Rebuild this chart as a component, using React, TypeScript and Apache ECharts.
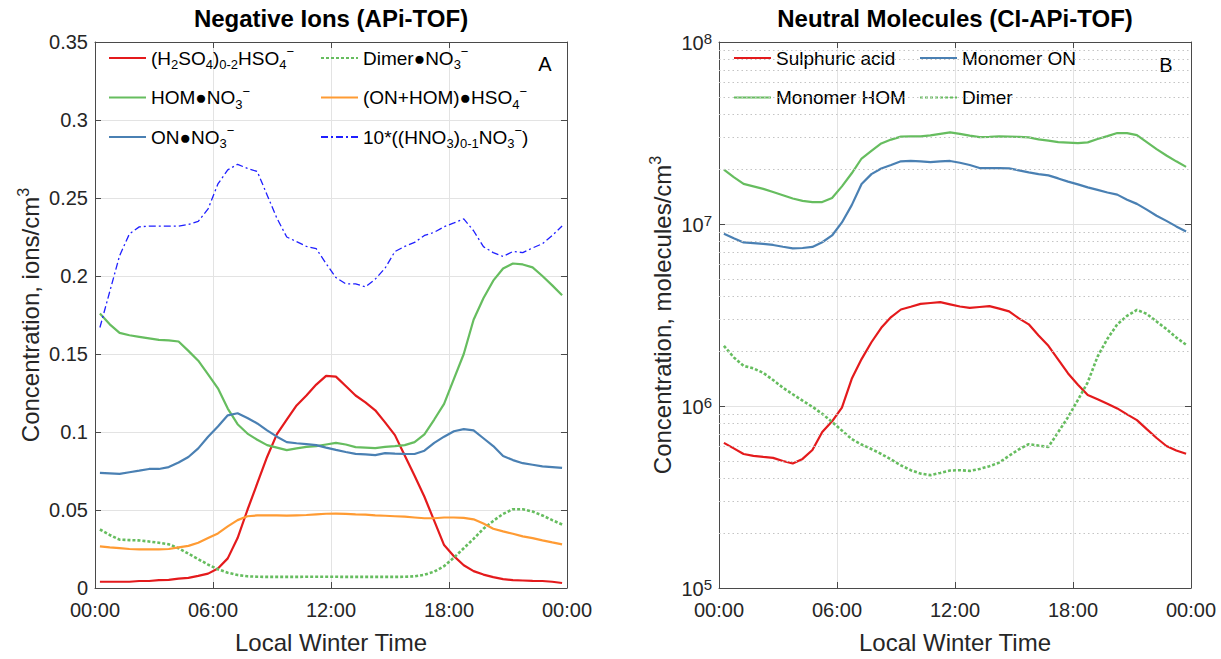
import React, { useEffect, useRef } from "react";
import * as echarts from "echarts";

const TIMES = [0.25, 0.75, 1.25, 1.75, 2.25, 2.75, 3.25, 3.75, 4.25, 4.75, 5.25, 5.75, 6.25, 6.75, 7.25, 7.75, 8.25, 8.75, 9.25, 9.75, 10.25, 10.75, 11.25, 11.75, 12.25, 12.75, 13.25, 13.75, 14.25, 14.75, 15.25, 15.75, 16.25, 16.75, 17.25, 17.75, 18.25, 18.75, 19.25, 19.75, 20.25, 20.75, 21.25, 21.75, 22.25, 22.75, 23.25, 23.75];

// Panel A: negative ions (ions/cm3)
const H2SO4_HSO4 = [0.004, 0.004, 0.004, 0.004, 0.0045, 0.0045, 0.005, 0.0052, 0.006, 0.0065, 0.0078, 0.0092, 0.0125, 0.019, 0.032, 0.05, 0.067, 0.084, 0.0986, 0.108, 0.117, 0.1234, 0.1304, 0.136, 0.1355, 0.1295, 0.1234, 0.119, 0.1139, 0.1062, 0.098, 0.085, 0.072, 0.0585, 0.043, 0.0275, 0.0204, 0.0146, 0.0108, 0.0086, 0.007, 0.0057, 0.005, 0.0048, 0.0046, 0.0045, 0.004, 0.0032];
const HOM_NO3 = [0.176, 0.169, 0.1635, 0.162, 0.161, 0.16, 0.159, 0.1587, 0.158, 0.152, 0.1457, 0.137, 0.128, 0.115, 0.105, 0.099, 0.095, 0.0916, 0.09, 0.0884, 0.0895, 0.0905, 0.091, 0.092, 0.093, 0.092, 0.0903, 0.09, 0.0897, 0.0905, 0.091, 0.0916, 0.0935, 0.0985, 0.108, 0.118, 0.134, 0.15, 0.172, 0.1857, 0.197, 0.2048, 0.208, 0.2074, 0.2055, 0.2, 0.194, 0.1877];
const ON_NO3 = [0.0738, 0.0735, 0.0732, 0.0742, 0.0752, 0.0763, 0.0763, 0.0775, 0.0805, 0.084, 0.0895, 0.097, 0.1035, 0.1107, 0.112, 0.109, 0.1055, 0.101, 0.097, 0.0935, 0.0928, 0.0922, 0.0916, 0.09, 0.0885, 0.0872, 0.086, 0.0856, 0.0852, 0.0865, 0.0862, 0.086, 0.0859, 0.088, 0.093, 0.097, 0.1005, 0.1018, 0.101, 0.096, 0.091, 0.0846, 0.082, 0.08, 0.079, 0.078, 0.0775, 0.077];
const DIMER_NO3 = [0.0375, 0.034, 0.031, 0.0307, 0.0305, 0.0298, 0.029, 0.028, 0.0255, 0.022, 0.0185, 0.015, 0.012, 0.0098, 0.0083, 0.0075, 0.0072, 0.0071, 0.0071, 0.0071, 0.0071, 0.0072, 0.0072, 0.0072, 0.0072, 0.0071, 0.0071, 0.0071, 0.0071, 0.0071, 0.0071, 0.0072, 0.0075, 0.0085, 0.0105, 0.014, 0.0195, 0.0255, 0.0315, 0.038, 0.043, 0.0475, 0.0505, 0.0505, 0.049, 0.0465, 0.0435, 0.0407];
const ONHOM_HSO4 = [0.0267, 0.026, 0.0255, 0.025, 0.0248, 0.0248, 0.0248, 0.025, 0.026, 0.027, 0.029, 0.032, 0.035, 0.0395, 0.0435, 0.046, 0.0465, 0.0466, 0.0465, 0.0464, 0.0466, 0.0468, 0.0472, 0.0476, 0.0477, 0.0475, 0.0472, 0.047, 0.0465, 0.0463, 0.046, 0.0457, 0.0452, 0.0447, 0.0447, 0.0452, 0.0452, 0.045, 0.044, 0.0413, 0.038, 0.0363, 0.0348, 0.0331, 0.032, 0.0305, 0.0292, 0.028];
const HNO3_X10 = [0.167, 0.19, 0.213, 0.227, 0.2315, 0.232, 0.232, 0.232, 0.232, 0.233, 0.235, 0.243, 0.259, 0.268, 0.2716, 0.269, 0.267, 0.252, 0.237, 0.225, 0.222, 0.219, 0.2175, 0.208, 0.199, 0.195, 0.195, 0.193, 0.198, 0.205, 0.2157, 0.219, 0.2215, 0.226, 0.228, 0.2316, 0.234, 0.2366, 0.229, 0.2188, 0.215, 0.2125, 0.2157, 0.215, 0.218, 0.2207, 0.226, 0.232];

// Panel B: neutral molecules (molecules/cm3)
const SULPHURIC = [6.27e5, 5.85e5, 5.45e5, 5.32e5, 5.25e5, 5.19e5, 4.99e5, 4.83e5, 5.12e5, 5.73e5, 7.19e5, 8.24e5, 9.8e5, 1.41e6, 1.81e6, 2.24e6, 2.69e6, 3.08e6, 3.39e6, 3.51e6, 3.64e6, 3.68e6, 3.72e6, 3.62e6, 3.52e6, 3.46e6, 3.5e6, 3.54e6, 3.43e6, 3.31e6, 3.03e6, 2.81e6, 2.44e6, 2.14e6, 1.8e6, 1.51e6, 1.31e6, 1.15e6, 1.09e6, 1.03e6, 9.7e5, 9.0e5, 8.36e5, 7.46e5, 6.67e5, 6.03e5, 5.7e5, 5.46e5];
const MONOMER_ON = [8.83e6, 8.34e6, 7.92e6, 7.85e6, 7.78e6, 7.67e6, 7.5e6, 7.35e6, 7.38e6, 7.48e6, 7.94e6, 8.65e6, 1.02e7, 1.27e7, 1.66e7, 1.88e7, 2.02e7, 2.11e7, 2.21e7, 2.22e7, 2.21e7, 2.19e7, 2.21e7, 2.22e7, 2.17e7, 2.11e7, 2.03e7, 2.03e7, 2.03e7, 2.02e7, 1.97e7, 1.92e7, 1.88e7, 1.85e7, 1.78e7, 1.71e7, 1.65e7, 1.59e7, 1.54e7, 1.49e7, 1.45e7, 1.36e7, 1.29e7, 1.2e7, 1.11e7, 1.04e7, 9.7e6, 9.1e6];
const MONOMER_HOM = [1.99e7, 1.81e7, 1.66e7, 1.61e7, 1.56e7, 1.5e7, 1.44e7, 1.38e7, 1.34e7, 1.32e7, 1.32e7, 1.39e7, 1.61e7, 1.9e7, 2.29e7, 2.52e7, 2.77e7, 2.91e7, 3.02e7, 3.03e7, 3.03e7, 3.07e7, 3.13e7, 3.19e7, 3.13e7, 3.06e7, 3.0e7, 3.01e7, 3.03e7, 3.02e7, 3.01e7, 2.99e7, 2.92e7, 2.87e7, 2.82e7, 2.8e7, 2.78e7, 2.81e7, 2.93e7, 3.04e7, 3.16e7, 3.16e7, 3.08e7, 2.82e7, 2.58e7, 2.38e7, 2.21e7, 2.06e7];
const DIMER = [2.14e6, 1.85e6, 1.66e6, 1.61e6, 1.52e6, 1.39e6, 1.26e6, 1.16e6, 1.07e6, 9.9e5, 9.06e5, 8.17e5, 7.33e5, 6.58e5, 6.14e5, 5.8e5, 5.45e5, 5.08e5, 4.72e5, 4.44e5, 4.25e5, 4.17e5, 4.29e5, 4.42e5, 4.44e5, 4.4e5, 4.51e5, 4.67e5, 4.89e5, 5.33e5, 5.78e5, 6.17e5, 6.06e5, 5.96e5, 7.19e5, 8.69e5, 1.08e6, 1.35e6, 1.87e6, 2.34e6, 2.81e6, 3.13e6, 3.37e6, 3.21e6, 2.91e6, 2.65e6, 2.38e6, 2.17e6];

const X_TICKS_HOURS = [0, 6, 12, 18, 24];
const LOG_MINOR = [2e5, 3e5, 4e5, 5e5, 6e5, 7e5, 8e5, 9e5, 2e6, 3e6, 4e6, 5e6, 6e6, 7e6, 8e6, 9e6, 2e7, 3e7, 4e7, 5e7, 6e7, 7e7, 8e7, 9e7];

const FONT = '"Liberation Sans", Arial, Helvetica, sans-serif';
const TXT = "#262626";
const AXIS = "#4a4a4a";
const GRID = "#e3e3e3";

const RED = "#e41a1c";
const GREEN = "#66bd5f";
const STEEL = "#4a80b3";
const ORANGE = "#ff9b33";
const BLUE = "#1f1fff";

const LEGEND_TEXT: Record<string, string> = {
  "(H2SO4)0-2HSO4-": "(H{s|2}SO{s|4}){s|0-2}HSO{s|4}{p|−}",
  "HOM●NO3-": "HOM●NO{s|3}{p|−}",
  "ON●NO3-": "ON●NO{s|3}{p|−}",
  "Dimer●NO3-": "Dimer●NO{s|3}{p|−}",
  "(ON+HOM)●HSO4-": "(ON+HOM)●HSO{s|4}{p|−}",
  "10*((HNO3)0-1NO3-)": "10*((HNO{s|3}){s|0-1}NO{s|3}{p|−})",
};

const legendTextStyle = {
  fontFamily: FONT,
  fontSize: 19,
  color: "#000",
  lineHeight: 26,
  rich: {
    s: { fontFamily: FONT, fontSize: 13, color: "#000", verticalAlign: "bottom", lineHeight: 26 },
    p: { fontFamily: FONT, fontSize: 13, color: "#000", verticalAlign: "top", lineHeight: 26 },
  },
};

function makeLegend(left: number, names: string[]) {
  return {
    left,
    top: 45,
    orient: "vertical",
    padding: 0,
    itemWidth: 37,
    itemHeight: 14,
    itemGap: 13.5,
    selectedMode: false,
    itemStyle: { opacity: 0 },
    data: names,
    formatter: (n: string) => LEGEND_TEXT[n] || n,
    textStyle: legendTextStyle,
  };
}

const pairs = (arr: number[]) => TIMES.map((t, i) => [t, arr[i]]);

function lineSeries(name: string, arr: number[], color: string, idx: number, width: number, type: any) {
  return {
    name,
    type: "line",
    xAxisIndex: idx,
    yAxisIndex: idx,
    data: pairs(arr),
    symbol: "none",
    silent: true,
    itemStyle: { color, opacity: 0 },
    lineStyle: { color, width, type, opacity: 1 },
  };
}

const hourLabel = (v: number) => {
  const h = Math.round(v) % 24;
  return (h < 10 ? "0" + h : String(h)) + ":00";
};

function xAxes(grid: number) {
  const common = {
    gridIndex: grid,
    type: "value",
    min: X_TICKS_HOURS[0],
    max: X_TICKS_HOURS[X_TICKS_HOURS.length - 1],
    interval: 6,
    axisLine: { show: true, onZero: false, lineStyle: { color: AXIS, width: 1 } },
    axisTick: { show: true, inside: true, length: 6, lineStyle: { color: AXIS } },
  };
  return [
    {
      ...common,
      position: "bottom",
      axisLabel: { formatter: hourLabel, fontFamily: FONT, fontSize: 20, color: TXT, margin: 12 },
      splitLine: { show: true, lineStyle: { color: GRID, width: 1 } },
      name: "Local Winter Time",
      nameLocation: "middle",
      nameGap: 42,
      nameTextStyle: { fontFamily: FONT, fontSize: 24, color: TXT },
    },
    {
      ...common,
      position: "top",
      axisLabel: { show: false },
      splitLine: { show: false },
    },
  ];
}

export default function App() {
  const ref = useRef<HTMLDivElement>(null);
  useEffect(() => {
    document.body.style.margin = "0";
    const chart = echarts.init(ref.current!, null, { renderer: "svg" });
    const yLinCommon = {
      gridIndex: 0,
      type: "value",
      min: 0,
      max: 0.35,
      interval: 0.05,
      axisLine: { show: true, onZero: false, lineStyle: { color: AXIS, width: 1 } },
      axisTick: { show: true, inside: true, length: 6, lineStyle: { color: AXIS } },
    };
    const yLogCommon = {
      gridIndex: 1,
      type: "log",
      logBase: 10,
      min: 1e5,
      max: 1e8,
      axisLine: { show: true, onZero: false, lineStyle: { color: AXIS, width: 1 } },
      axisTick: { show: true, inside: true, length: 6, lineStyle: { color: AXIS } },
    };
    const option: any = {
      animation: false,
      backgroundColor: "#ffffff",
      textStyle: { fontFamily: FONT },
      grid: [
        { left: 95, right: 654, top: 42, bottom: 67 },
        { left: 719, right: 30, top: 42, bottom: 67 },
      ],
      xAxis: [...xAxes(0), ...xAxes(1)],
      yAxis: [
        {
          ...yLinCommon,
          position: "left",
          axisLabel: { fontFamily: FONT, fontSize: 20, color: TXT, margin: 7, lineHeight: 20 },
          splitLine: { show: true, lineStyle: { color: GRID, width: 1 } },
          name: "Concentration, ions/cm{p|3}",
          nameLocation: "middle",
          nameGap: 50,
          nameTextStyle: {
            fontFamily: FONT,
            fontSize: 24,
            color: TXT,
            lineHeight: 30,
            rich: { p: { fontFamily: FONT, fontSize: 16, color: TXT, verticalAlign: "top", lineHeight: 30 } },
          },
        },
        { ...yLinCommon, position: "right", axisLabel: { show: false }, splitLine: { show: false } },
        {
          ...yLogCommon,
          position: "left",
          axisLabel: {
            fontFamily: FONT,
            fontSize: 20,
            color: TXT,
            margin: 7,
            lineHeight: 22,
            formatter: (v: number) => "{b|10}{e|" + Math.round(Math.log10(v)) + "}",
            rich: {
              b: { fontFamily: FONT, fontSize: 20, color: TXT, verticalAlign: "bottom", lineHeight: 22 },
              e: { fontFamily: FONT, fontSize: 15, color: TXT, verticalAlign: "top", lineHeight: 22 },
            },
          },
          splitLine: { show: true, lineStyle: { color: GRID, width: 1 } },
          name: "Concentration, molecules/cm{p|3}",
          nameLocation: "middle",
          nameGap: 40,
          nameTextStyle: {
            fontFamily: FONT,
            fontSize: 24,
            color: TXT,
            lineHeight: 30,
            rich: { p: { fontFamily: FONT, fontSize: 16, color: TXT, verticalAlign: "top", lineHeight: 30 } },
          },
        },
        { ...yLogCommon, position: "right", axisLabel: { show: false }, splitLine: { show: false } },
      ],
      legend: [
        makeLegend(108, ["(H2SO4)0-2HSO4-", "HOM●NO3-", "ON●NO3-"]),
        makeLegend(320, ["Dimer●NO3-", "(ON+HOM)●HSO4-", "10*((HNO3)0-1NO3-)"]),
        makeLegend(733, ["Sulphuric acid", "Monomer HOM"]),
        makeLegend(919, ["Monomer ON", "Dimer"]),
      ],
      graphic: [
        {
          type: "text",
          x: 331,
          y: 18,
          style: { text: "Negative Ions (APi-TOF)", fontFamily: FONT, fontSize: 24, fontWeight: "bold", fill: "#000", align: "center", verticalAlign: "middle", textAlign: "center", textVerticalAlign: "middle" },
        },
        {
          type: "text",
          x: 955,
          y: 18,
          style: { text: "Neutral Molecules (CI-APi-TOF)", fontFamily: FONT, fontSize: 24, fontWeight: "bold", fill: "#000", align: "center", verticalAlign: "middle", textAlign: "center", textVerticalAlign: "middle" },
        },
        {
          type: "text",
          x: 545,
          y: 64,
          style: { text: "A", fontFamily: FONT, fontSize: 20, fill: "#000", align: "center", verticalAlign: "middle", textAlign: "center", textVerticalAlign: "middle" },
        },
        {
          type: "text",
          x: 1166,
          y: 65,
          style: { text: "B", fontFamily: FONT, fontSize: 20, fill: "#000", align: "center", verticalAlign: "middle", textAlign: "center", textVerticalAlign: "middle" },
        },
      ],
      series: [
        {
          name: "minor-grid",
          type: "line",
          xAxisIndex: 2,
          yAxisIndex: 2,
          data: [[0, 1e5]],
          symbol: "none",
          silent: true,
          z: 1,
          lineStyle: { width: 0 },
          markLine: {
            silent: true,
            symbol: ["none", "none"],
            label: { show: false },
            lineStyle: { type: [1.5, 3], color: "#c4c4c4", width: 1 },
            data: LOG_MINOR.map((v) => ({ yAxis: v })),
          },
        },
        lineSeries("(H2SO4)0-2HSO4-", H2SO4_HSO4, RED, 0, 2.2, "solid"),
        lineSeries("HOM●NO3-", HOM_NO3, GREEN, 0, 2.2, "solid"),
        lineSeries("ON●NO3-", ON_NO3, STEEL, 0, 2.2, "solid"),
        lineSeries("Dimer●NO3-", DIMER_NO3, GREEN, 0, 2.6, [3, 2]),
        lineSeries("(ON+HOM)●HSO4-", ONHOM_HSO4, ORANGE, 0, 2.2, "solid"),
        lineSeries("10*((HNO3)0-1NO3-)", HNO3_X10, BLUE, 0, 1.3, [7, 3, 2, 3]),
        lineSeries("Sulphuric acid", SULPHURIC, RED, 2, 2.2, "solid"),
        lineSeries("Monomer ON", MONOMER_ON, STEEL, 2, 2.2, "solid"),
        lineSeries("Monomer HOM", MONOMER_HOM, GREEN, 2, 2.2, "solid"),
        lineSeries("Dimer", DIMER, GREEN, 2, 2.6, [3, 2]),
      ],
    };
    chart.setOption(option);
    return () => chart.dispose();
  }, []);
  return <div ref={ref} style={{ width: 1221, height: 659 }} />;
}
